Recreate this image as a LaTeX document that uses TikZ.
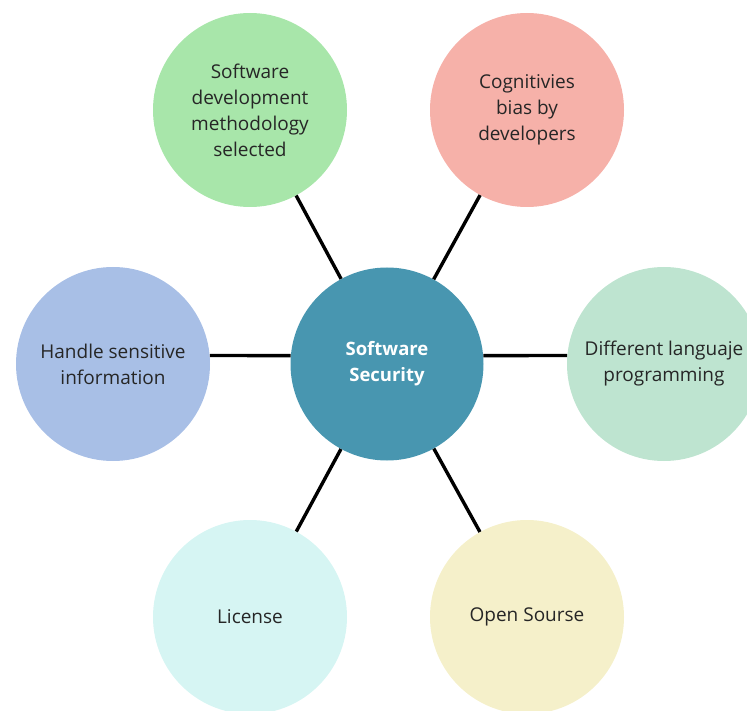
\documentclass[tikz,border=0pt]{standalone}
\usepackage{fontspec}
\setmainfont{Open Sans}
\usetikzlibrary{positioning}

\definecolor{hubblue}{HTML}{4896B0}
\definecolor{methgreen}{HTML}{A8E6AA}
\definecolor{biaspink}{HTML}{F6B1A9}
\definecolor{infoblue}{HTML}{A8BFE6}
\definecolor{langgreen}{HTML}{BEE4D0}
\definecolor{liccyan}{HTML}{D6F5F3}
\definecolor{srcyellow}{HTML}{F5F0CA}

\tikzset{
  topic/.style={circle, minimum size=194pt, inner sep=0pt, align=center,
    text=black!85, font=\fontsize{19}{26}\selectfont},
  hub/.style={circle, minimum size=193pt, inner sep=0pt, align=center,
    fill=hubblue, text=white, font=\fontsize{18.5}{26}\selectfont\bfseries},
  link/.style={line width=3.4pt, black}
}

\begin{document}
\begin{tikzpicture}[x=1pt, y=-1pt]
    \useasboundingbox (0,0) rectangle (747,711);

    % hub and the six factors around it
    \node[hub] (sec) at (387,364) {Software\\Security};

    \node[topic, fill=methgreen] (meth) at (250,110) {Software\\development\\methodology\\selected};
    \node[topic, fill=biaspink] (bias) at (527,110) {Cognitivies\\bias by\\developers};
    \node[topic, fill=infoblue] (info) at (113,364) {Handle sensitive\\information};
    \node[topic, fill=langgreen] (lang) at (664,364) {Different languaje\\programming};
    \node[topic, fill=liccyan] (lic) at (250,617) {License};
    \node[topic, fill=srcyellow] (src) at (527,617) {Open Sourse};

    \draw[link] (sec) -- (meth);
    \draw[link] (sec) -- (bias);
    \draw[link] (sec.175) -- (info.5);
    \draw[link] (sec.5) -- (lang.175);
    \draw[link] (sec) -- (lic);
    \draw[link] (sec) -- (src);
\end{tikzpicture}
\end{document}
